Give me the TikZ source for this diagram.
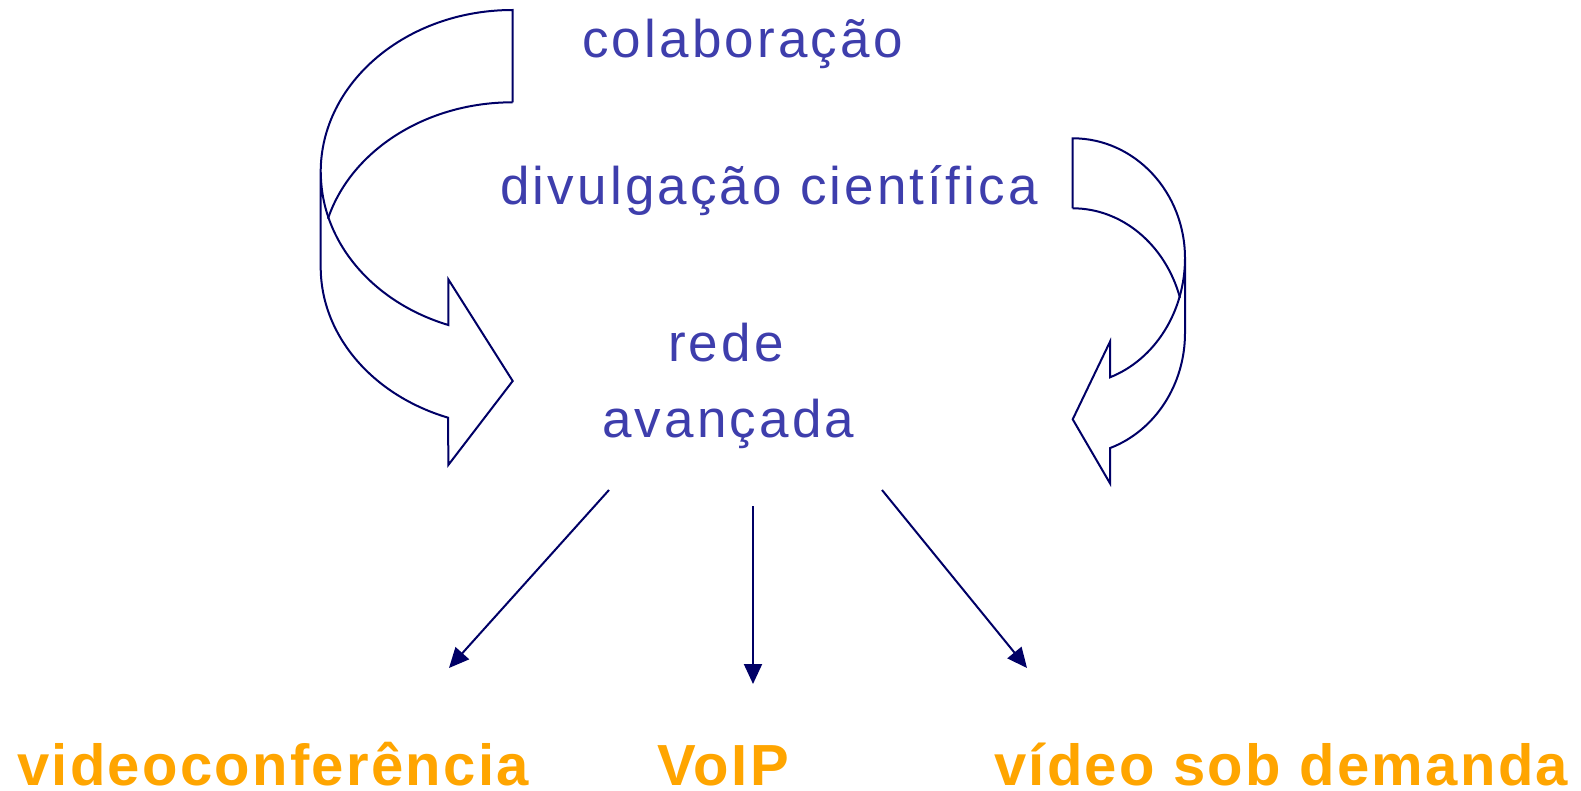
\documentclass[tikz,border=0pt]{standalone}
\usepackage{fontspec}
\setmainfont{Liberation Sans}
\newfontfamily\bluefont{Liberation Sans}[LetterSpace=6]
\newfontfamily\orangefont{Liberation Sans}[LetterSpace=4]
\usetikzlibrary{arrows.meta}

\definecolor{navyline}{RGB}{0,0,102}
\definecolor{bluetxt}{RGB}{62,62,172}
\definecolor{orangetxt}{RGB}{255,165,0}

\begin{document}
\begin{tikzpicture}[x=1pt,y=-1pt,
	outline/.style={draw=navyline,line width=2pt,line join=miter},
	topic/.style={anchor=base west,inner sep=0pt,text=bluetxt,font=\bluefont\fontsize{53}{62}\selectfont},
	service/.style={anchor=base west,inner sep=0pt,text=orangetxt,font=\orangefont\bfseries\fontsize{58}{68}\selectfont},
	link/.style={draw=navyline,line width=2pt,-{Triangle[length=20pt,width=18pt]}}]
	
	\useasboundingbox (0,0) rectangle (1581,790);
	
	\node[topic] (colab)  at (582, 57)  {colaboração};
	\node[topic] (divulg) at (500, 204) {divulgação científica};
	\node[topic] (rede)   at (668, 361) {rede};
	\node[topic] (avanc)  at (602, 437) {avançada};
	
	\node[service] (video) at (17, 785)  {videoconferência};
	\node[service] (voip)  at (657, 785) {VoIP};
	\node[service] (vod)   at (994, 785) {vídeo sob demanda};
	
	% left curved arrow
	\draw[outline] (512.5,102.3) -- (512.5,10)
		arc[start angle=-90, end angle=-180, x radius=191.8, y radius=162]
		-- (320.7,267)
		arc[start angle=180, end angle=109.6, x radius=191.8, y radius=160]
		-- (448.3,465) -- (512.7,381) -- (448.3,279.3) -- (448.3,325)
		arc[start angle=109.6, end angle=180, x radius=191.8, y radius=162];
	\draw[outline] (512.5,102.3)
		arc[start angle=-90, end angle=-164.2, x radius=191.8, y radius=160];
	
	% right curved arrow
	\draw[outline] (1072.7,208.3) -- (1072.7,138.3)
		arc[start angle=-90, end angle=0, x radius=112.3, y radius=120]
		-- (1185,333)
		arc[start angle=0, end angle=70.6, x radius=112.3, y radius=122]
		-- (1110,483.3) -- (1072.7,419.3) -- (1110,341.7) -- (1110,377.3)
		arc[start angle=70.6, end angle=0, x radius=112.3, y radius=126.5];
	\draw[outline] (1072.7,208.3)
		arc[start angle=-90, end angle=-17.2, x radius=112.3, y radius=127];
	
	% straight arrows
	\coordinate (s1) at (609,490);
	\coordinate (s2) at (753,506);
	\coordinate (s3) at (882,490);
	\coordinate (e1) at (449,668);
	\coordinate (e2) at (753,684);
	\coordinate (e3) at (1027,668);
	
	\draw[link] (s1) -- (e1);
	\draw[link] (s2) -- (e2);
	\draw[link] (s3) -- (e3);
	
\end{tikzpicture}
\end{document}
